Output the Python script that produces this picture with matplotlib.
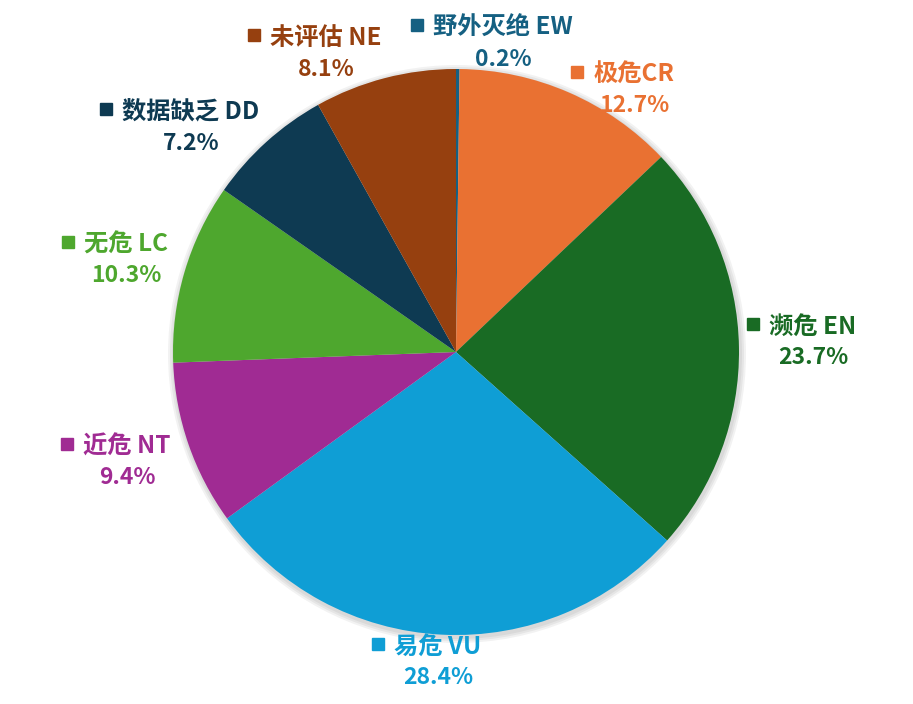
import matplotlib
matplotlib.use('Agg')
import matplotlib.pyplot as plt
from matplotlib.patches import Circle

plt.rcParams['font.family'] = ['Noto Sans CJK SC', 'DejaVu Sans']

# data, clockwise from 12 o'clock
names = ["野外灭绝 EW", "极危CR", "濒危 EN", "易危 VU", "近危 NT", "无危 LC", "数据缺乏 DD", "未评估 NE"]
shares = [0.2, 12.7, 23.7, 28.4, 9.4, 10.3, 7.2, 8.1]
pct_labels = ["0.2%", "12.7%", "23.7%", "28.4%", "9.4%", "10.3%", "7.2%", "8.1%"]

colors = ["#156082", "#E97132", "#196B24", "#0F9ED5", "#A02B93", "#4EA72E", "#0E3A52", "#96400F"]

# label anchor (text centre x, text centre y) in picture pixels, y from top
label_pos = [(503, 28), (634, 75), (813, 327), (438, 647), (127, 447), (126, 245), (191, 112), (326, 38)]

W, H = 913, 704
fig = plt.figure(figsize=(W / 100, H / 100), dpi=100)
ax = fig.add_axes([0, 0, 1, 1])
ax.set_xlim(0, W)
ax.set_ylim(0, H)
ax.set_aspect('equal')
ax.axis('off')

cx, cy, r = 456, H - 352, 283

# soft shadow under the pie
for i, a in enumerate([0.05, 0.05, 0.05]):
    ax.add_patch(Circle((cx + 1, cy - 2), r + 2 + 2 * i, color='black', alpha=a, lw=0, zorder=0))

ax.pie(shares, colors=colors, startangle=90, counterclock=False,
       center=(cx, cy), radius=r, frame=True,
       wedgeprops=dict(linewidth=0))
ax.set_xlim(0, W)
ax.set_ylim(0, H)
ax.axis('off')

fig.canvas.draw()
renderer = fig.canvas.get_renderer()

for name, pct, col, (lx, ly) in zip(names, pct_labels, colors, label_pos):
    y = H - ly
    t = ax.text(lx, y, name, ha='center', va='center', fontsize=17.5,
                fontweight='bold', color=col)
    ax.text(lx, y - 31, pct, ha='center', va='center', fontsize=16.5,
            fontweight='bold', color=col)
    bb = t.get_window_extent(renderer=renderer)
    x0 = ax.transData.inverted().transform((bb.x0, bb.y0))[0]
    ax.plot(x0 - 16, y + 3, marker='s', ms=8.5, color=col, lw=0)

fig.savefig('out.png', dpi=100)
